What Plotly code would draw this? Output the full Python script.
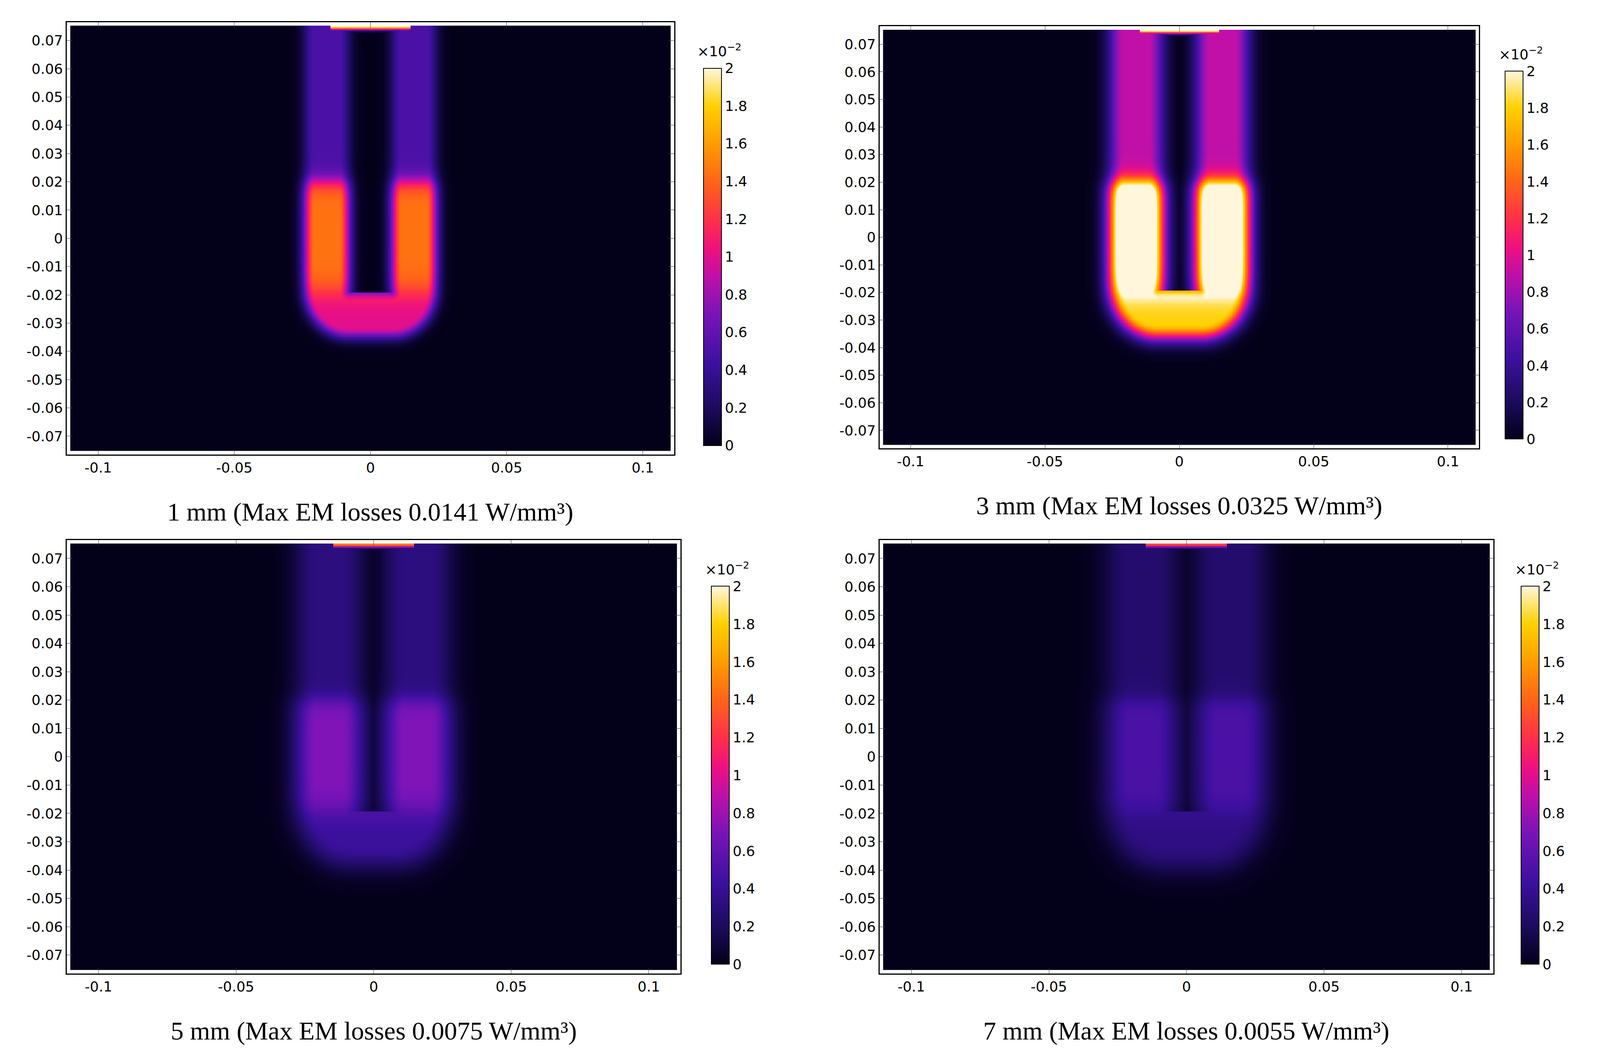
import numpy as np
import plotly.graph_objects as go

# panel labels and the loss levels (colorbar units, x1e-2 W/mm^3)
titles = [
    "1 mm (Max EM losses 0.0141 W/mm³)",
    "3 mm (Max EM losses 0.0325 W/mm³)",
    "5 mm (Max EM losses 0.0075 W/mm³)",
    "7 mm (Max EM losses 0.0055 W/mm³)",
]
upper_leg = [0.50, 0.90, 0.32, 0.26]
lower_leg = [1.45, 2.60, 0.72, 0.50]
bottom_arc = [1.00, 1.80, 0.42, 0.33]
top_strip = [2.00, 2.00, 1.50, 1.30]
spread = [0.0030, 0.0042, 0.0060, 0.0068]

x_ticks = [-0.1, -0.05, 0, 0.05, 0.1]
y_ticks = [-0.07, -0.06, -0.05, -0.04, -0.03, -0.02, -0.01, 0, 0.01, 0.02, 0.03, 0.04, 0.05, 0.06, 0.07]
cb_ticks = [0, 0.2, 0.4, 0.6, 0.8, 1, 1.2, 1.4, 1.6, 1.8, 2]

cmap = [
    [0.0, "#03001a"], [0.1, "#1c0b5c"], [0.22, "#3d10a0"], [0.35, "#7a14b8"],
    [0.45, "#c010a8"], [0.52, "#ee1080"], [0.6, "#ff3048"], [0.7, "#ff6418"],
    [0.8, "#ff9c00"], [0.9, "#ffd000"], [1.0, "#fff6dc"],
]

xs = np.linspace(-0.11, 0.11, 441)
ys = np.linspace(-0.075, 0.075, 301)
X, Y = np.meshgrid(xs, ys)


def field(i):
    # distance to the U-shaped coil centreline (legs at x=+-0.016, flat rounded base)
    cx, r, yb = 0.016, 0.008, -0.019
    ax = np.abs(X)
    d_leg = np.where(Y > yb, np.abs(ax - cx), np.inf)
    cornx = np.clip(ax, 0, cx - r)
    d_b = np.abs(np.hypot(ax - cornx, Y - yb) - r)
    d_b = np.where(Y <= yb, d_b, np.inf)
    d = np.minimum(d_leg, d_b)
    half = 0.0045
    w = spread[i]
    shape = np.exp(-np.maximum(d - half, 0) ** 2 / (2 * w ** 2))
    t = 1 / (1 + np.exp(-(Y - 0.02) / 0.0018))
    tb = 1 / (1 + np.exp(-(Y - yb) / 0.0025))
    leg = lower_leg[i] * (1 - t) + upper_leg[i] * t
    lvl = leg * tb + bottom_arc[i] * (1 - tb)
    z = lvl * shape
    strip = top_strip[i] * np.exp(-((Y - 0.075) / 0.0012) ** 2) * (np.abs(X) < 0.015)
    return np.maximum(z, strip)


doms = [
    ([0.040, 0.421], [0.572, 0.982]),
    ([0.550, 0.926], [0.578, 0.978]),
    ([0.040, 0.425], [0.080, 0.491]),
    ([0.550, 0.935], [0.080, 0.491]),
]
cbx = [0.437, 0.940, 0.442, 0.950]

fig = go.Figure()
axfont = dict(family="DejaVu Sans", size=36, color="black")
for i in range(4):
    s = "" if i == 0 else str(i + 1)
    (x0, x1), (y0, y1) = doms[i]
    fig.add_trace(go.Heatmap(
        x=xs, y=ys, z=field(i), zmin=0, zmax=2, colorscale=cmap,
        xaxis="x" + s, yaxis="y" + s,
        colorbar=dict(
            x=cbx[i], xanchor="left", y=y0 + 0.005, yanchor="bottom",
            len=(y1 - y0) * 0.89, lenmode="fraction", thickness=46,
            tickvals=cb_ticks, ticktext=[f"{v:g}" for v in cb_ticks],
            tickfont=axfont, outlinecolor="black", outlinewidth=2, ticks="",
        ),
    ))
    fig.layout["xaxis" + s] = dict(
        domain=[x0, x1], range=[-0.1115, 0.1115], anchor="y" + s,
        tickvals=x_ticks, ticktext=[f"{v:g}" for v in x_ticks],
        ticks="inside", ticklen=14, mirror="ticks", showline=True,
        linecolor="black", linewidth=3, showgrid=False, zeroline=False,
        tickfont=axfont,
    )
    fig.layout["yaxis" + s] = dict(
        domain=[y0, y1], range=[-0.0765, 0.0765], anchor="x" + s,
        tickvals=y_ticks, ticktext=[f"{v:g}" for v in y_ticks],
        ticks="inside", ticklen=14, mirror="ticks", showline=True,
        linecolor="black", linewidth=3, showgrid=False, zeroline=False,
        tickfont=axfont,
    )
    fig.add_annotation(
        text=titles[i], xref="paper", yref="paper", x=(x0 + x1) / 2, y=y0 - 0.04,
        xanchor="center", yanchor="top", showarrow=False,
        font=dict(family="Liberation Serif", size=66, color="black"),
    )
    fig.add_annotation(
        text="×10<sup>−2</sup>", xref="paper", yref="paper", x=cbx[i] - 0.002,
        y=y0 + 0.005 + (y1 - y0) * 0.89 + 0.004, xanchor="left", yanchor="bottom",
        showarrow=False, font=axfont,
    )

fig.update_layout(
    autosize=True, paper_bgcolor="white", plot_bgcolor="white",
    margin=dict(l=0, r=0, t=0, b=0, autoexpand=False), showlegend=False,
)
fig.write_html("out.html", config={"responsive": True})
